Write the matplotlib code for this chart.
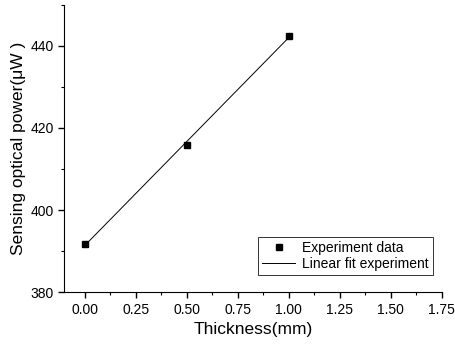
import numpy as np
import matplotlib
matplotlib.use("Agg")
import matplotlib.pyplot as plt
from matplotlib.ticker import MultipleLocator

plt.rcParams['font.family'] = ['Liberation Sans', 'DejaVu Sans']

# data
thickness = [0.0, 0.5, 1.0]
power = [391.7, 415.9, 442.4]

# linear fit of experiment
k, b = np.polyfit(thickness, power, 1)
fit_x = np.array([0.0, 1.0])
fit_y = k * fit_x + b

fig = plt.figure(figsize=(4.55, 3.47), dpi=100)
ax = fig.add_axes([0.141, 0.158, 0.83, 0.828])

ax.plot(thickness, power, 's', color='black', markersize=5, label='Experiment data')
ax.plot(fit_x, fit_y, '-', color='black', lw=0.7, label='Linear fit experiment')

ax.set_xlim(-0.1, 1.75)
ax.set_ylim(380, 450)
ax.xaxis.set_major_locator(MultipleLocator(0.25))
ax.xaxis.set_minor_locator(MultipleLocator(0.125))
ax.yaxis.set_major_locator(MultipleLocator(20))
ax.yaxis.set_minor_locator(MultipleLocator(10))
ax.xaxis.set_major_formatter(plt.FormatStrFormatter('%.2f'))

ax.spines['top'].set_visible(False)
ax.spines['right'].set_visible(False)
ax.tick_params(which='major', direction='out', length=4, width=1, labelsize=10)
ax.tick_params(which='minor', direction='out', length=2, width=0.8)

ax.set_xlabel('Thickness(mm)', fontsize=12.5)
ax.set_ylabel('Sensing optical power(μW )', fontsize=12.5, labelpad=3)

leg = ax.legend(loc='lower right', fontsize=10, frameon=True, fancybox=False,
                edgecolor='black', handlelength=2.4, borderpad=0.3,
                labelspacing=0.15, handletextpad=0.5,
                bbox_to_anchor=(0.995, 0.035))
leg.get_frame().set_linewidth(0.7)

fig.savefig('out.png', dpi=100)
